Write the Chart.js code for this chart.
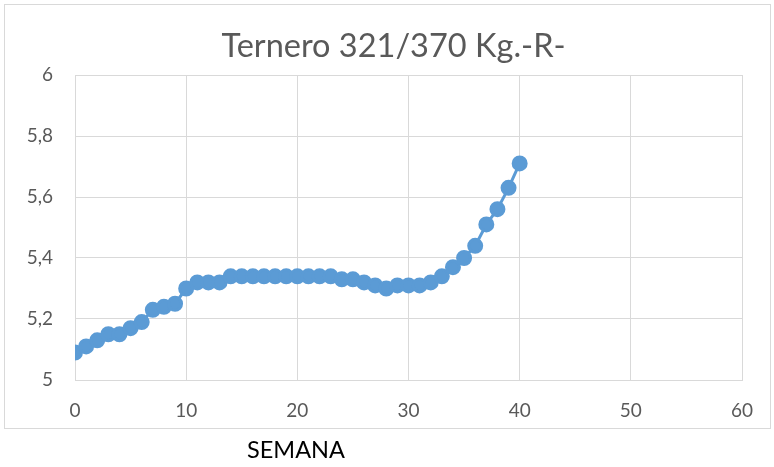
<!DOCTYPE html>
<html>
<head>
<meta charset="utf-8">
<script src="https://cdn.jsdelivr.net/npm/chart.js@4"></script>
<style>
  body { margin: 0; background: #fff; }
  #wrap { position: relative; width: 774px; height: 467px; }
  #xTitle { position: absolute; left: 247px; top: 435px; font: 23.5px Lato, sans-serif; color: #000; }
</style>
</head>
<body>
<div id="wrap">
  <canvas id="chartCanvas" width="774" height="467"></canvas>
  <div id="xTitle">SEMANA</div>
</div>
<script>
const weeks = [0,1,2,3,4,5,6,7,8,9,10,11,12,13,14,15,16,17,18,19,20,21,22,23,24,25,26,27,28,29,30,31,32,33,34,35,36,37,38,39,40];
const weights = [5.09,5.11,5.13,5.15,5.15,5.17,5.19,5.23,5.24,5.25,5.30,5.32,5.32,5.32,5.34,5.34,5.34,5.34,5.34,5.34,5.34,5.34,5.34,5.34,5.33,5.33,5.32,5.31,5.30,5.31,5.31,5.31,5.32,5.34,5.37,5.40,5.44,5.51,5.56,5.63,5.71];
const yTickLabels = ["5", "5,2", "5,4", "5,6", "5,8", "6"];
const xTickLabels = ["0", "10", "20", "30", "40", "50", "60"];

const borderBox = {
  id: "borderBox",
  beforeDraw(chart) {
    const c = chart.ctx;
    c.save();
    c.strokeStyle = "#d9d9d9";
    c.lineWidth = 1;
    c.strokeRect(4.5, 4.5, 766, 424);
    c.restore();
  }
};

// nudge the title a bit left, Excel centres it a little off the plot area
const titleShift = {
  id: "titleShift",
  afterLayout(chart) {
    const t = chart.titleBlock;
    if (t) { t.left -= 15; t.right -= 15; }
  }
};

const ctx = document.getElementById("chartCanvas").getContext("2d");
new Chart(ctx, {
  type: "scatter",
  data: {
    datasets: [{
      data: weeks.map((w, i) => ({ x: w, y: weights[i] })),
      showLine: true,
      borderColor: "#5b9bd5",
      backgroundColor: "#5b9bd5",
      borderWidth: 3,
      pointRadius: 6.5,
      pointHoverRadius: 6.5
    }]
  },
  options: {
    responsive: false,
    animation: false,
    layout: { padding: { left: 0, right: 32, top: 0, bottom: 0 } },
    plugins: {
      legend: { display: false },
      tooltip: { enabled: false },
      title: {
        display: true,
        fullSize: false,
        text: "Ternero 321/370 Kg.-R-",
        color: "#595959",
        font: { family: "Lato", size: 32.5, weight: "normal" },
        padding: { top: 27, bottom: 9 }
      }
    },
    scales: {
      x: {
        type: "linear",
        min: 0, max: 60,
        afterFit: s => { s.height = 87; },
        ticks: {
          stepSize: 10,
          padding: 19,
          color: "#595959",
          font: { family: "Lato", size: 19 },
          callback: v => xTickLabels[v / 10]
        },
        grid: { color: "#d9d9d9", drawTicks: false },
        border: { color: "#d9d9d9" }
      },
      y: {
        min: 5, max: 6,
        afterFit: s => { s.width = 75; },
        ticks: {
          stepSize: 0.2,
          padding: 22,
          color: "#595959",
          font: { family: "Lato", size: 19 },
          callback: v => yTickLabels[Math.round((v - 5) / 0.2)]
        },
        grid: { color: "#d9d9d9", drawTicks: false },
        border: { display: false }
      }
    }
  },
  plugins: [borderBox, titleShift]
});
</script>
</body>
</html>
